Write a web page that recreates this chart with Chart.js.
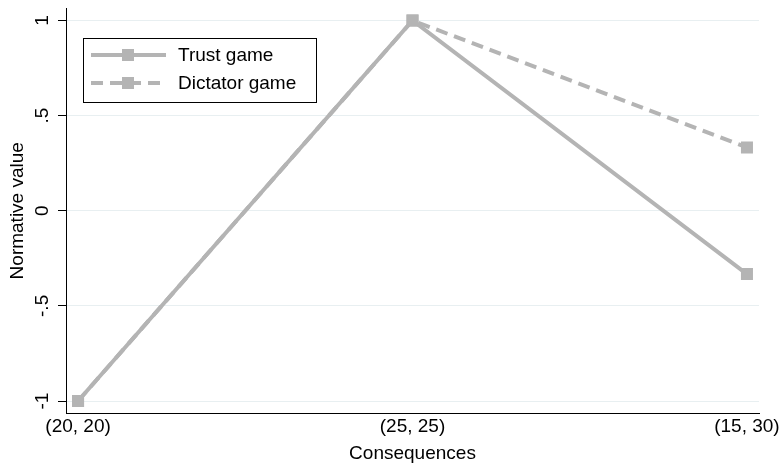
<!DOCTYPE html>
<html>
<head>
<meta charset="utf-8">
<script src="https://cdn.jsdelivr.net/npm/chart.js@4/dist/chart.umd.min.js"></script>
<style>
  html, body { margin: 0; padding: 0; background: #fff; }
  #wrap { width: 782px; height: 465px; }
</style>
</head>
<body>
<div id="wrap"><canvas id="grafico"></canvas></div>
<script>
// dados do grafico
var categorias = ['(20, 20)', '(25, 25)', '(15, 30)']
var trustGame = [-1, 1, -0.333]
var dictatorGame = [-1, 1, 0.333]
var yTicks = [-1, -0.5, 0, 0.5, 1]
var yTickLabels = ['-1', '-.5', '0', '.5', '1']

var cinza = '#b4b4b4'
var fonte = 'Arial, "Liberation Sans", sans-serif'
Chart.defaults.color = '#000'
Chart.defaults.font.family = fonte

// monta os pontos x/y a partir das categorias
function pontos(valores){
    return valores.map(function(v, i){ return { x: i, y: v } })
}

// legenda desenhada no estilo do Stata (linha + marcador dentro de uma caixa)
var legendaStata = {
    id: 'legendaStata',
    afterDraw: function(chart){
        var ctx = chart.ctx
        var itens = chart.data.datasets
        ctx.save()
        ctx.fillStyle = '#fff'
        ctx.fillRect(83.5, 38.5, 233, 64)
        ctx.strokeStyle = '#000'
        ctx.lineWidth = 1
        ctx.strokeRect(83.5, 38.5, 233, 64)
        itens.forEach(function(ds, i){
            var y = 55 + i * 28
            ctx.strokeStyle = ds.borderColor
            ctx.lineWidth = ds.borderWidth
            ctx.setLineDash(ds.borderDash || [])
            ctx.beginPath()
            ctx.moveTo(91, y)
            ctx.lineTo(166, y)
            ctx.stroke()
            ctx.setLineDash([])
            ctx.fillStyle = ds.pointBackgroundColor
            ctx.fillRect(122, y - 6, 12, 12)
            ctx.fillStyle = '#000'
            ctx.font = '19px ' + fonte
            ctx.textBaseline = 'middle'
            ctx.textAlign = 'left'
            ctx.fillText(ds.label, 178, y + 1)
        })
        ctx.restore()
    }
}

new Chart(document.getElementById('grafico').getContext('2d'), {
    type: 'line',
    data: {
        datasets: [
            {
                label: 'Trust game',
                data: pontos(trustGame),
                borderColor: cinza,
                borderWidth: 4,
                pointStyle: 'rect',
                pointRadius: 8.5,
                pointBackgroundColor: cinza,
                pointBorderWidth: 0,
                tension: 0
            },
            {
                label: 'Dictator game',
                data: pontos(dictatorGame),
                borderColor: cinza,
                borderWidth: 4,
                borderDash: [12, 7],
                pointStyle: 'rect',
                pointRadius: 8.5,
                pointBackgroundColor: cinza,
                pointBorderWidth: 0,
                tension: 0
            }
        ]
    },
    options: {
        responsive: true,
        maintainAspectRatio: false,
        animation: false,
        layout: { padding: { left: 0, right: 23, top: 8, bottom: 0 } },
        plugins: { legend: { display: false }, tooltip: { enabled: false } },
        scales: {
            x: {
                type: 'linear',
                min: -0.036,
                max: 2.036,
                afterBuildTicks: function(axis){
                    axis.ticks = categorias.map(function(c, i){ return { value: i } })
                },
                afterFit: function(axis){
                    axis.height = 52
                    axis.paddingLeft = 0
                    axis.paddingRight = 0
                },
                ticks: {
                    autoSkip: false,
                    maxRotation: 0,
                    padding: 2,
                    font: { size: 19 },
                    callback: function(v){ return categorias[v] }
                },
                grid: { display: false, drawTicks: false },
                border: { display: true, color: '#000', width: 1 },
                title: {
                    display: true,
                    text: 'Consequences',
                    font: { size: 19 },
                    padding: { top: 4, bottom: 0 }
                }
            },
            y: {
                min: -1.063,
                max: 1.063,
                afterBuildTicks: function(axis){
                    axis.ticks = yTicks.map(function(v){ return { value: v } })
                },
                afterFit: function(axis){
                    axis.width = 66
                    axis.paddingTop = 0
                    axis.paddingBottom = 0
                },
                ticks: {
                    minRotation: 90,
                    maxRotation: 90,
                    crossAlign: 'center',
                    padding: 4,
                    font: { size: 19 },
                    callback: function(v){ return yTickLabels[yTicks.indexOf(v)] }
                },
                grid: {
                    color: '#e8eff1',
                    lineWidth: 1,
                    tickLength: 8,
                    tickColor: '#000'
                },
                border: { display: true, color: '#000', width: 1 },
                title: {
                    display: true,
                    text: 'Normative value',
                    font: { size: 19 },
                    padding: { top: 6, bottom: 0 }
                }
            }
        }
    },
    plugins: [legendaStata]
})
</script>
</body>
</html>
